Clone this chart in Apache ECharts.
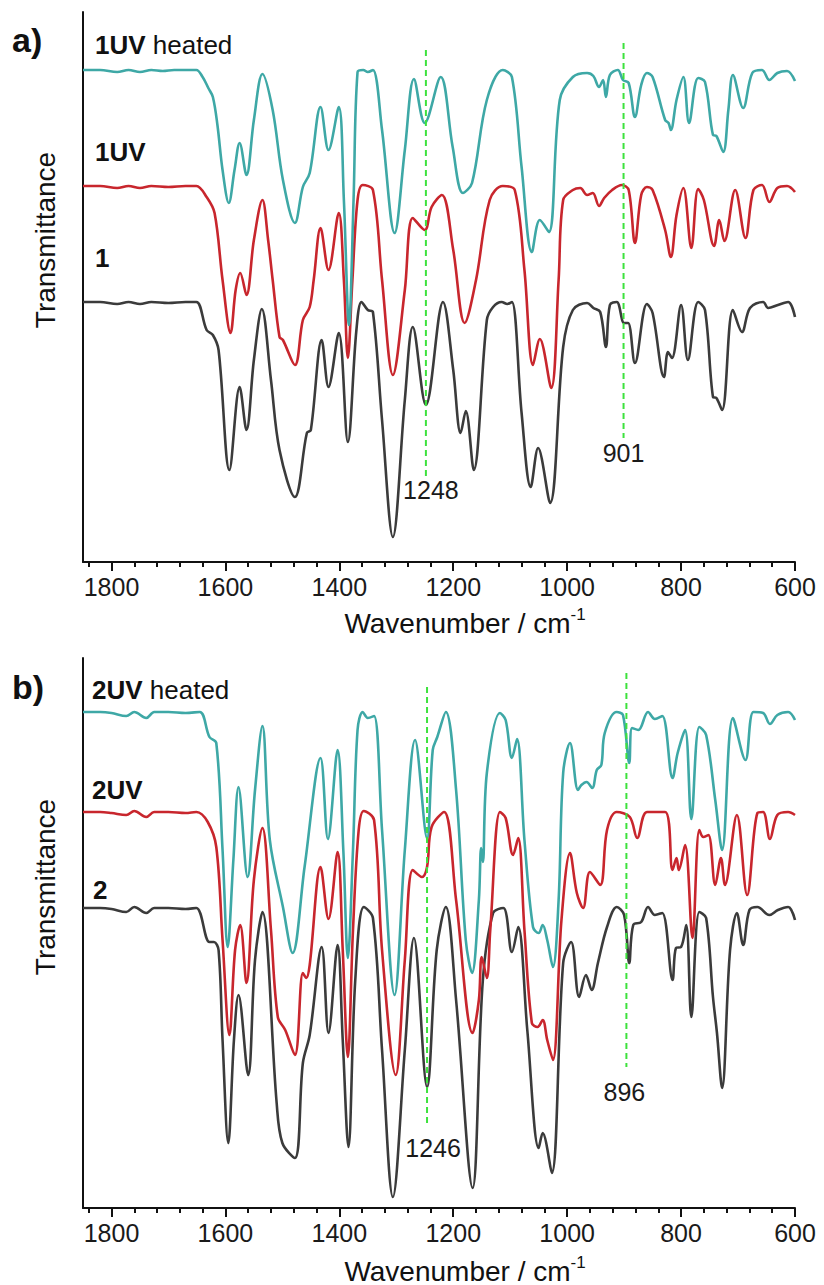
<!DOCTYPE html>
<html>
<head>
<meta charset="utf-8">
<script src="https://cdn.jsdelivr.net/npm/echarts@6/dist/echarts.min.js"></script>
<style>
html,body{margin:0;padding:0;background:#ffffff;}
#chart{width:824px;height:1285px;}
</style>
</head>
<body>
<div id="chart"></div>
<script>
// ---------- DATA (wavenumber / cm-1, transmittance in arbitrary offset units) ----------
const majorTicks = [600, 800, 1000, 1200, 1400, 1600, 1800];
const minorTicks = [640, 680, 720, 760, 840, 880, 920, 960, 1040, 1080, 1120, 1160,
                    1240, 1280, 1320, 1360, 1440, 1480, 1520, 1560, 1640, 1680, 1720, 1760, 1840];

// Panel a
const a_1UVheated = [[1850,492],[1820,492],[1790,490],[1770,492],[1750,490],[1730,492],[1710,491],[1690,492],[1670,492],[1651,492],
  [1640,485],[1630,474],[1622,465],[1614,437],[1605,392],[1594,359],[1584,392],[1575,419],[1563,387],[1550,442],
  [1535,488],[1517,452],[1499,382],[1478,339],[1464,375],[1452,389],[1433,455],[1419,412],[1401,455],[1392,362],
  [1383,237],[1375,362],[1368,490],[1358,492],[1350,490],[1341,492],[1325,432],[1303,329],[1285,412],[1269,483],
  [1250,439],[1222,485],[1201,415],[1183,369],[1167,379],[1141,462],[1113,492],[1097,485],[1080,395],[1062,310],
  [1048,342],[1032,330],[1013,462],[990,485],[965,489],[954,486],[944,475],[937,482],[932,465],[925,487],
  [911,492],[902,482],[892,479],[881,445],[870,477],[860,489],[850,485],[828,442],[822,439],[818,432],
  [808,462],[796,485],[786,439],[770,484],[758,480],[744,427],[738,426],[726,410],[717,452],[709,487],
  [691,454],[675,489],[658,492],[645,482],[631,489],[614,491],[600,481]];

const a_1UV = [[1850,376],[1820,376],[1790,374],[1770,376],[1750,374],[1730,376],[1700,375],[1670,376],[1651,376],[1633,365],
  [1619,349],[1605,282],[1591,229],[1582,272],[1574,289],[1563,267],[1550,322],[1535,362],[1525,322],[1517,282],
  [1505,225],[1499,222],[1478,197],[1464,242],[1452,255],[1445,282],[1433,334],[1419,292],[1401,349],[1392,282],
  [1385,204],[1377,282],[1368,362],[1359,377],[1341,372],[1325,282],[1306,187],[1285,272],[1271,344],[1250,332],
  [1238,355],[1220,367],[1200,312],[1180,239],[1160,282],[1136,362],[1113,376],[1092,372],[1075,292],[1060,197],
  [1048,223],[1028,174],[1015,282],[1007,362],[990,372],[977,374],[965,367],[955,369],[944,356],[935,364],
  [921,372],[904,377],[892,372],[881,319],[870,367],[860,375],[850,372],[828,332],[818,305],[808,347],
  [796,374],[782,314],[770,373],[760,362],[742,316],[733,342],[724,321],[705,372],[687,324],[673,372],
  [658,377],[645,360],[631,374],[614,376],[600,370]];

const a_1 = [[1850,260],[1820,260],[1790,258],[1770,260],[1750,258],[1730,260],[1700,259],[1670,260],[1651,260],[1633,232],
  [1622,227],[1612,212],[1593,92],[1575,175],[1563,132],[1550,202],[1536,253],[1520,182],[1505,112],[1478,65],
  [1457,129],[1450,132],[1431,222],[1419,175],[1401,229],[1385,120],[1370,232],[1361,260],[1350,252],[1341,250],
  [1325,142],[1306,25],[1285,162],[1271,235],[1248,157],[1218,260],[1200,192],[1187,129],[1178,151],[1164,92],
  [1141,242],[1130,255],[1115,260],[1105,258],[1097,260],[1080,149],[1064,75],[1051,114],[1030,59],[1007,215],
  [990,252],[965,259],[954,254],[942,250],[932,215],[925,257],[913,260],[900,239],[893,239],[881,199],
  [860,258],[850,249],[830,185],[823,210],[816,204],[800,257],[788,202],[770,260],[758,252],[744,165],
  [738,164],[728,152],[709,252],[693,230],[679,254],[656,260],[647,254],[630,257],[612,260],[600,245]];

// Panel b
const b_2UVheated = [[1850,496],[1820,496],[1800,495],[1774,492],[1760,496],[1739,490],[1725,496],[1700,496],[1670,495],[1645,496],
  [1628,471],[1616,465],[1605,358],[1596,261],[1586,348],[1577,421],[1561,331],[1548,418],[1535,482],[1522,368],
  [1499,301],[1482,255],[1461,341],[1433,450],[1420,369],[1403,458],[1393,358],[1385,250],[1376,358],[1368,478],
  [1359,496],[1350,490],[1339,492],[1325,378],[1303,213],[1285,358],[1267,468],[1246,370],[1236,458],[1228,471],
  [1213,496],[1195,418],[1178,268],[1167,235],[1155,308],[1151,360],[1148,346],[1141,435],[1118,495],[1108,488],
  [1097,450],[1088,469],[1075,368],[1060,281],[1050,275],[1043,283],[1035,268],[1025,241],[1015,308],[1007,435],
  [995,465],[981,418],[975,423],[966,426],[956,420],[948,438],[940,443],[934,475],[913,496],[902,493],
  [891,445],[886,480],[875,478],[858,496],[846,489],[833,492],[815,430],[806,455],[793,478],[782,389],
  [768,481],[756,473],[740,408],[728,358],[709,490],[687,448],[673,496],[656,495],[644,484],[631,493],
  [612,496],[600,488]];

const b_2UV = [[1850,396],[1820,396],[1800,395],[1774,393],[1760,397],[1739,391],[1725,396],[1700,396],[1670,395],[1651,396],
  [1631,386],[1616,361],[1605,268],[1593,173],[1583,258],[1574,283],[1563,225],[1550,328],[1535,380],[1520,278],
  [1508,191],[1495,178],[1478,153],[1464,235],[1458,230],[1452,243],[1433,341],[1419,289],[1403,356],[1394,258],
  [1385,151],[1376,278],[1366,378],[1357,397],[1339,388],[1325,258],[1301,133],[1285,248],[1271,338],[1255,331],
  [1246,341],[1238,381],[1216,396],[1195,308],[1166,175],[1155,208],[1150,251],[1141,230],[1135,278],[1118,396],
  [1108,390],[1095,353],[1086,370],[1075,278],[1062,185],[1052,181],[1043,188],[1035,168],[1025,148],[1010,288],
  [995,355],[983,315],[972,300],[960,336],[942,323],[930,378],[913,396],[890,391],[877,370],[860,396],
  [828,396],[815,338],[808,350],[804,338],[793,363],[780,270],[768,378],[761,371],[752,373],[740,323],
  [730,350],[723,323],[702,393],[684,313],[666,395],[656,396],[644,369],[631,393],[612,396],[600,393]];

const b_2 = [[1850,300],[1820,300],[1800,299],[1774,296],[1760,301],[1739,295],[1725,300],[1700,300],[1670,299],[1651,300],
  [1628,266],[1620,266],[1612,258],[1605,168],[1595,65],[1585,168],[1577,213],[1560,133],[1548,248],[1535,296],
  [1510,105],[1500,65],[1478,50],[1464,145],[1452,173],[1431,261],[1419,175],[1403,263],[1394,168],[1384,61],
  [1372,228],[1357,301],[1341,290],[1325,158],[1306,11],[1285,158],[1269,270],[1246,121],[1229,258],[1213,301],
  [1195,208],[1166,20],[1148,228],[1130,295],[1112,300],[1097,256],[1086,281],[1070,178],[1050,60],[1043,75],
  [1027,35],[1007,245],[993,266],[979,211],[967,233],[957,218],[946,245],[930,281],[913,301],[900,293],
  [891,245],[884,283],[870,286],[858,301],[846,293],[833,295],[815,228],[809,260],[800,261],[791,283],
  [782,191],[768,296],[756,290],[744,211],[737,175],[728,120],[714,258],[702,295],[691,263],[680,298],
  [666,301],[645,293],[630,298],[612,301],[600,288]];

// Marked bands (wavenumber, dashed-line top and bottom in the same units)
const marksA = [1248, 901];
const marksA_top = [512, 519];
const marksA_bottom = [85, 124];
const marksB = [1246, 896];
const marksB_top = [521, 535];
const marksB_bottom = [81, 141];

// ---------- CHART ----------
const FONT = '"Liberation Sans", Arial, Helvetica, sans-serif';
const C_TEAL = '#3ea8a6', C_RED = '#c8262d', C_BLACK = '#3b3b3b', C_GREEN = '#3de23d', C_AXIS = '#111111';

const chart = echarts.init(document.getElementById('chart'), null, {renderer: 'svg'});

function xAxes(gi) {
  const base = {gridIndex: gi, type: 'value', min: 600, max: 1850, inverse: true, position: 'bottom',
    splitLine: {show: false}};
  return [
    Object.assign({}, base, {
      axisLine: {show: true, onZero: false, lineStyle: {color: C_AXIS, width: 2}},
      axisTick: {show: true, customValues: majorTicks, length: 9, inside: false, lineStyle: {color: C_AXIS, width: 2}},
      axisLabel: {show: true, customValues: majorTicks, formatter: v => String(v), fontSize: 25, color: '#1a1a1a',
        fontFamily: FONT, margin: 12}
    }),
    Object.assign({}, base, {
      axisLine: {show: false, onZero: false},
      axisTick: {show: true, customValues: minorTicks, length: 5, inside: false, lineStyle: {color: C_AXIS, width: 2}},
      axisLabel: {show: false}
    })
  ];
}
function yAxis(gi) {
  return {gridIndex: gi, type: 'value', min: 0, max: 550, position: 'left',
    axisLine: {show: true, onZero: false, lineStyle: {color: C_AXIS, width: 2}},
    axisTick: {show: false}, axisLabel: {show: false}, splitLine: {show: false}};
}
function spectrum(name, data, color, xi, yi) {
  return {name, type: 'line', xAxisIndex: xi, yAxisIndex: yi, data, showSymbol: false, symbol: 'none',
    smooth: 0.35, lineStyle: {color, width: 2.6}, itemStyle: {color}, silent: true, animation: false};
}
function markLines(wns, tops, bottoms, xi, yi, dists, dxs) {
  return wns.map((wn, i) => ({
    type: 'line', xAxisIndex: xi, yAxisIndex: yi, silent: true, animation: false,
    symbol: 'circle', symbolSize: 1, showSymbol: true, itemStyle: {color: 'rgba(0,0,0,0)'},
    lineStyle: {color: C_GREEN, width: 2, type: [6, 4]}, z: 5,
    data: [[wn, tops[i]], {value: [wn, bottoms[i]], label: {show: true, position: 'bottom',
      distance: dists[i], offset: [dxs[i], 0], formatter: String(wn), fontSize: 25, color: '#1a1a1a', fontFamily: FONT}}]
  }));
}

const labelStyle = (txt, x, y) => ({type: 'text', x, y, silent: true,
  style: {text: txt, fontSize: 26, fontFamily: FONT, fill: '#111', align: 'left', verticalAlign: 'middle',
    rich: {b: {fontWeight: 'bold', fontSize: 26, fontFamily: FONT, fill: '#111'}}}});
const titleX = (y) => ({type: 'text', x: 465, y, silent: true,
  style: {text: 'Wavenumber / cm{sup|-1}', fontSize: 28, lineHeight: 34, fontFamily: FONT, fill: '#111',
    align: 'center', verticalAlign: 'middle',
    rich: {sup: {fontSize: 17, lineHeight: 34, verticalAlign: 'top', fontFamily: FONT, fill: '#111'}}}});
const titleY = (y) => ({type: 'text', x: 45, y, rotation: Math.PI / 2, silent: true,
  style: {text: 'Transmittance', fontSize: 28, fontFamily: FONT, fill: '#111', align: 'center', verticalAlign: 'middle'}});
const panelTag = (t, y) => ({type: 'text', x: 12, y, silent: true,
  style: {text: t, fontSize: 34, fontWeight: 'bold', fontFamily: FONT, fill: '#111', align: 'left', verticalAlign: 'middle'}});

chart.setOption({
  backgroundColor: '#ffffff',
  animation: false,
  grid: [
    {left: 83, right: 29, top: 12, height: 550},
    {left: 83, right: 29, top: 658, height: 550}
  ],
  xAxis: [...xAxes(0), ...xAxes(1)],
  yAxis: [yAxis(0), yAxis(1)],
  series: [
    spectrum('1', a_1, C_BLACK, 0, 0),
    spectrum('1UV', a_1UV, C_RED, 0, 0),
    spectrum('1UV heated', a_1UVheated, C_TEAL, 0, 0),
    spectrum('2', b_2, C_BLACK, 2, 1),
    spectrum('2UV', b_2UV, C_RED, 2, 1),
    spectrum('2UV heated', b_2UVheated, C_TEAL, 2, 1),
    ...markLines(marksA, marksA_top, marksA_bottom, 0, 0, [0, 2], [5, 0]),
    ...markLines(marksB, marksB_top, marksB_bottom, 2, 1, [8, 12], [6, -2])
  ],
  graphic: [
    panelTag('a)', 40), panelTag('b)', 687),
    titleY(240), titleY(887),
    titleX(623), titleX(1271),
    labelStyle('{b|1UV} heated', 95, 45), labelStyle('{b|1UV}', 95, 152), labelStyle('{b|1}', 95, 258),
    labelStyle('{b|2UV} heated', 92, 690), labelStyle('{b|2UV}', 92, 790), labelStyle('{b|2}', 93, 890)
  ]
});
</script>
</body>
</html>
